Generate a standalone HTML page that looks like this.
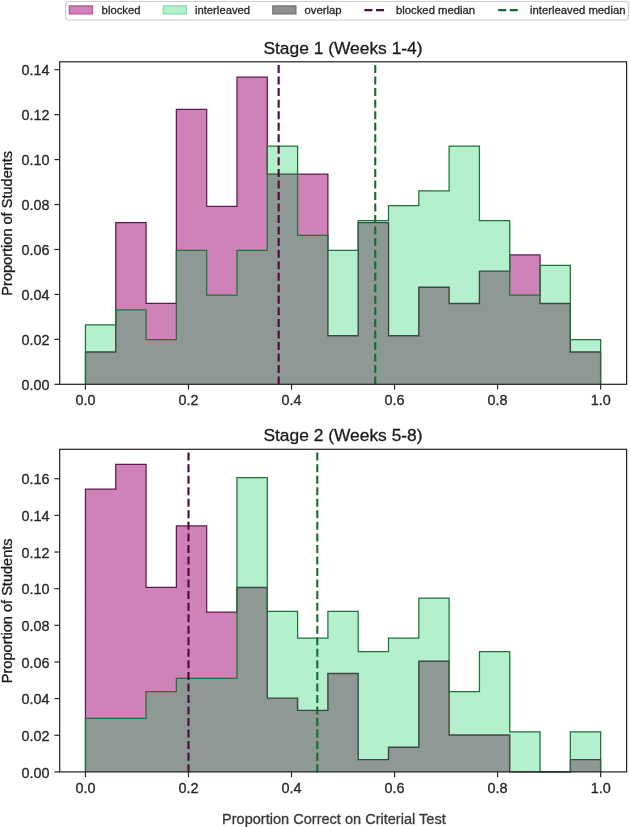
<!DOCTYPE html>
<html><head><meta charset="utf-8"><title>chart</title>
<style>
html,body{margin:0;padding:0;background:#fff;}
body{width:631px;height:827px;position:relative;overflow:hidden;font-family:"Liberation Sans", sans-serif;}
svg text{font-family:"Liberation Sans", sans-serif;stroke-width:0.3px;}
</style></head><body>
<svg width="631" height="827" viewBox="0 0 631 827" style="position:absolute;left:0;top:0;will-change:transform;opacity:0.999">
<rect x="0" y="0" width="631" height="827" fill="#fff"/>
<clipPath id="ci0"><path d="M85.45 384.3 L85.45 324.78 L115.76 324.78 L115.76 309.9 L146.06 309.9 L146.06 339.66 L176.37 339.66 L176.37 250.37 L206.67 250.37 L206.67 295.02 L236.98 295.02 L236.98 250.37 L267.29 250.37 L267.29 146.21 L297.59 146.21 L297.59 235.49 L327.9 235.49 L327.9 250.37 L358.2 250.37 L358.2 220.61 L388.51 220.61 L388.51 205.73 L418.81 205.73 L418.81 190.85 L449.12 190.85 L449.12 146.21 L479.43 146.21 L479.43 220.61 L509.73 220.61 L509.73 295.02 L540.04 295.02 L540.04 265.25 L570.34 265.25 L570.34 339.66 L600.65 339.66 L600.65 384.3 Z"/></clipPath>
<path d="M85.45 384.3 L85.45 351.97 L115.76 351.97 L115.76 222.65 L146.06 222.65 L146.06 303.47 L176.37 303.47 L176.37 109.49 L206.67 109.49 L206.67 206.48 L236.98 206.48 L236.98 77.16 L267.29 77.16 L267.29 174.15 L297.59 174.15 L297.59 174.15 L327.9 174.15 L327.9 335.8 L358.2 335.8 L358.2 222.65 L388.51 222.65 L388.51 335.8 L418.81 335.8 L418.81 287.31 L449.12 287.31 L449.12 303.47 L479.43 303.47 L479.43 271.14 L509.73 271.14 L509.73 254.98 L540.04 254.98 L540.04 303.47 L570.34 303.47 L570.34 351.97 L600.65 351.97 L600.65 384.3 Z" fill="#cf82b8"/>
<path d="M85.45 384.3 L85.45 351.97 L115.76 351.97 L115.76 222.65 L146.06 222.65 L146.06 303.47 L176.37 303.47 L176.37 109.49 L206.67 109.49 L206.67 206.48 L236.98 206.48 L236.98 77.16 L267.29 77.16 L267.29 174.15 L297.59 174.15 L297.59 174.15 L327.9 174.15 L327.9 335.8 L358.2 335.8 L358.2 222.65 L388.51 222.65 L388.51 335.8 L418.81 335.8 L418.81 287.31 L449.12 287.31 L449.12 303.47 L479.43 303.47 L479.43 271.14 L509.73 271.14 L509.73 254.98 L540.04 254.98 L540.04 303.47 L570.34 303.47 L570.34 351.97 L600.65 351.97 L600.65 384.3" fill="none" stroke="#5e1a4e" stroke-width="1.25" stroke-linejoin="miter"/>
<path d="M85.45 384.3 L85.45 324.78 L115.76 324.78 L115.76 309.9 L146.06 309.9 L146.06 339.66 L176.37 339.66 L176.37 250.37 L206.67 250.37 L206.67 295.02 L236.98 295.02 L236.98 250.37 L267.29 250.37 L267.29 146.21 L297.59 146.21 L297.59 235.49 L327.9 235.49 L327.9 250.37 L358.2 250.37 L358.2 220.61 L388.51 220.61 L388.51 205.73 L418.81 205.73 L418.81 190.85 L449.12 190.85 L449.12 146.21 L479.43 146.21 L479.43 220.61 L509.73 220.61 L509.73 295.02 L540.04 295.02 L540.04 265.25 L570.34 265.25 L570.34 339.66 L600.65 339.66 L600.65 384.3 Z" fill="#b3f0cb"/>
<path d="M85.45 384.3 L85.45 351.97 L115.76 351.97 L115.76 309.9 L146.06 309.9 L146.06 339.66 L176.37 339.66 L176.37 250.37 L206.67 250.37 L206.67 295.02 L236.98 295.02 L236.98 250.37 L267.29 250.37 L267.29 174.15 L297.59 174.15 L297.59 235.49 L327.9 235.49 L327.9 335.8 L358.2 335.8 L358.2 222.65 L388.51 222.65 L388.51 335.8 L418.81 335.8 L418.81 287.31 L449.12 287.31 L449.12 303.47 L479.43 303.47 L479.43 271.14 L509.73 271.14 L509.73 295.02 L540.04 295.02 L540.04 303.47 L570.34 303.47 L570.34 351.97 L600.65 351.97 L600.65 384.3 Z" fill="#8e9894"/>
<path d="M85.45 384.3 L85.45 351.97 L115.76 351.97 L115.76 222.65 L146.06 222.65 L146.06 303.47 L176.37 303.47 L176.37 109.49 L206.67 109.49 L206.67 206.48 L236.98 206.48 L236.98 77.16 L267.29 77.16 L267.29 174.15 L297.59 174.15 L297.59 174.15 L327.9 174.15 L327.9 335.8 L358.2 335.8 L358.2 222.65 L388.51 222.65 L388.51 335.8 L418.81 335.8 L418.81 287.31 L449.12 287.31 L449.12 303.47 L479.43 303.47 L479.43 271.14 L509.73 271.14 L509.73 254.98 L540.04 254.98 L540.04 303.47 L570.34 303.47 L570.34 351.97 L600.65 351.97 L600.65 384.3" fill="none" stroke="#3f4743" stroke-width="1.4" clip-path="url(#ci0)"/>
<path d="M85.45 384.3 L85.45 324.78 L115.76 324.78 L115.76 309.9 L146.06 309.9 L146.06 339.66 L176.37 339.66 L176.37 250.37 L206.67 250.37 L206.67 295.02 L236.98 295.02 L236.98 250.37 L267.29 250.37 L267.29 146.21 L297.59 146.21 L297.59 235.49 L327.9 235.49 L327.9 250.37 L358.2 250.37 L358.2 220.61 L388.51 220.61 L388.51 205.73 L418.81 205.73 L418.81 190.85 L449.12 190.85 L449.12 146.21 L479.43 146.21 L479.43 220.61 L509.73 220.61 L509.73 295.02 L540.04 295.02 L540.04 265.25 L570.34 265.25 L570.34 339.66 L600.65 339.66 L600.65 384.3" fill="none" stroke="#1b7438" stroke-width="1.25" stroke-linejoin="miter"/>
<line x1="278.65" y1="384.6" x2="278.65" y2="61.8" stroke="#4a0a3c" stroke-width="2.1" stroke-dasharray="8.0 3.54"/>
<line x1="375.25" y1="384.6" x2="375.25" y2="61.8" stroke="#166c31" stroke-width="2.1" stroke-dasharray="8.0 3.54"/>
<rect x="59.7" y="61.8" width="566.9" height="322.5" fill="none" stroke="#222222" stroke-width="1.2"/>
<line x1="54.4" y1="384.3" x2="59.7" y2="384.3" stroke="#222222" stroke-width="1.15"/>
<text x="49.4" y="390.05" text-anchor="end" font-size="14.4" fill="#262626" stroke="#262626">0.00</text>
<line x1="54.4" y1="339.36" x2="59.7" y2="339.36" stroke="#222222" stroke-width="1.15"/>
<text x="49.4" y="345.11" text-anchor="end" font-size="14.4" fill="#262626" stroke="#262626">0.02</text>
<line x1="54.4" y1="294.42" x2="59.7" y2="294.42" stroke="#222222" stroke-width="1.15"/>
<text x="49.4" y="300.17" text-anchor="end" font-size="14.4" fill="#262626" stroke="#262626">0.04</text>
<line x1="54.4" y1="249.48" x2="59.7" y2="249.48" stroke="#222222" stroke-width="1.15"/>
<text x="49.4" y="255.23" text-anchor="end" font-size="14.4" fill="#262626" stroke="#262626">0.06</text>
<line x1="54.4" y1="204.54" x2="59.7" y2="204.54" stroke="#222222" stroke-width="1.15"/>
<text x="49.4" y="210.29" text-anchor="end" font-size="14.4" fill="#262626" stroke="#262626">0.08</text>
<line x1="54.4" y1="159.6" x2="59.7" y2="159.6" stroke="#222222" stroke-width="1.15"/>
<text x="49.4" y="165.35" text-anchor="end" font-size="14.4" fill="#262626" stroke="#262626">0.10</text>
<line x1="54.4" y1="114.66" x2="59.7" y2="114.66" stroke="#222222" stroke-width="1.15"/>
<text x="49.4" y="120.41" text-anchor="end" font-size="14.4" fill="#262626" stroke="#262626">0.12</text>
<line x1="54.4" y1="69.72" x2="59.7" y2="69.72" stroke="#222222" stroke-width="1.15"/>
<text x="49.4" y="75.47" text-anchor="end" font-size="14.4" fill="#262626" stroke="#262626">0.14</text>
<line x1="85.45" y1="384.3" x2="85.45" y2="389.6" stroke="#222222" stroke-width="1.15"/>
<text x="85.45" y="405.4" text-anchor="middle" font-size="14.4" fill="#262626" stroke="#262626">0.0</text>
<line x1="188.49" y1="384.3" x2="188.49" y2="389.6" stroke="#222222" stroke-width="1.15"/>
<text x="188.49" y="405.4" text-anchor="middle" font-size="14.4" fill="#262626" stroke="#262626">0.2</text>
<line x1="291.53" y1="384.3" x2="291.53" y2="389.6" stroke="#222222" stroke-width="1.15"/>
<text x="291.53" y="405.4" text-anchor="middle" font-size="14.4" fill="#262626" stroke="#262626">0.4</text>
<line x1="394.57" y1="384.3" x2="394.57" y2="389.6" stroke="#222222" stroke-width="1.15"/>
<text x="394.57" y="405.4" text-anchor="middle" font-size="14.4" fill="#262626" stroke="#262626">0.6</text>
<line x1="497.61" y1="384.3" x2="497.61" y2="389.6" stroke="#222222" stroke-width="1.15"/>
<text x="497.61" y="405.4" text-anchor="middle" font-size="14.4" fill="#262626" stroke="#262626">0.8</text>
<line x1="600.65" y1="384.3" x2="600.65" y2="389.6" stroke="#222222" stroke-width="1.15"/>
<text x="600.65" y="405.4" text-anchor="middle" font-size="14.4" fill="#262626" stroke="#262626">1.0</text>
<text x="343.0" y="54.1" text-anchor="middle" font-size="17.4" fill="#1a1a1a" stroke="#1a1a1a">Stage 1 (Weeks 1-4)</text>
<text transform="translate(12.2 223.25) rotate(-90)" text-anchor="middle" font-size="14.55" fill="#1a1a1a" stroke="#1a1a1a">Proportion of Students</text>
<clipPath id="ci1"><path d="M85.45 771.9 L85.45 718.4 L115.76 718.4 L115.76 718.4 L146.06 718.4 L146.06 691.65 L176.37 691.65 L176.37 678.28 L206.67 678.28 L206.67 678.28 L236.98 678.28 L236.98 477.66 L267.29 477.66 L267.29 611.41 L297.59 611.41 L297.59 638.16 L327.9 638.16 L327.9 611.41 L358.2 611.41 L358.2 651.53 L388.51 651.53 L388.51 638.16 L418.81 638.16 L418.81 598.03 L449.12 598.03 L449.12 691.65 L479.43 691.65 L479.43 651.53 L509.73 651.53 L509.73 731.78 L540.04 731.78 L540.04 771.9 L570.34 771.9 L570.34 731.78 L600.65 731.78 L600.65 771.9 Z"/></clipPath>
<path d="M85.45 771.9 L85.45 489.06 L115.76 489.06 L115.76 464.47 L146.06 464.47 L146.06 587.44 L176.37 587.44 L176.37 525.95 L206.67 525.95 L206.67 612.03 L236.98 612.03 L236.98 587.44 L267.29 587.44 L267.29 698.12 L297.59 698.12 L297.59 710.41 L327.9 710.41 L327.9 673.52 L358.2 673.52 L358.2 759.6 L388.51 759.6 L388.51 747.31 L418.81 747.31 L418.81 661.22 L449.12 661.22 L449.12 735.01 L479.43 735.01 L479.43 735.01 L509.73 735.01 L509.73 771.9 L540.04 771.9 L540.04 771.9 L570.34 771.9 L570.34 759.6 L600.65 759.6 L600.65 771.9 Z" fill="#cf82b8"/>
<path d="M85.45 771.9 L85.45 489.06 L115.76 489.06 L115.76 464.47 L146.06 464.47 L146.06 587.44 L176.37 587.44 L176.37 525.95 L206.67 525.95 L206.67 612.03 L236.98 612.03 L236.98 587.44 L267.29 587.44 L267.29 698.12 L297.59 698.12 L297.59 710.41 L327.9 710.41 L327.9 673.52 L358.2 673.52 L358.2 759.6 L388.51 759.6 L388.51 747.31 L418.81 747.31 L418.81 661.22 L449.12 661.22 L449.12 735.01 L479.43 735.01 L479.43 735.01 L509.73 735.01 L509.73 771.9 L540.04 771.9 L540.04 771.9 L570.34 771.9 L570.34 759.6 L600.65 759.6 L600.65 771.9" fill="none" stroke="#5e1a4e" stroke-width="1.25" stroke-linejoin="miter"/>
<path d="M85.45 771.9 L85.45 718.4 L115.76 718.4 L115.76 718.4 L146.06 718.4 L146.06 691.65 L176.37 691.65 L176.37 678.28 L206.67 678.28 L206.67 678.28 L236.98 678.28 L236.98 477.66 L267.29 477.66 L267.29 611.41 L297.59 611.41 L297.59 638.16 L327.9 638.16 L327.9 611.41 L358.2 611.41 L358.2 651.53 L388.51 651.53 L388.51 638.16 L418.81 638.16 L418.81 598.03 L449.12 598.03 L449.12 691.65 L479.43 691.65 L479.43 651.53 L509.73 651.53 L509.73 731.78 L540.04 731.78 L540.04 771.9 L570.34 771.9 L570.34 731.78 L600.65 731.78 L600.65 771.9 Z" fill="#b3f0cb"/>
<path d="M85.45 771.9 L85.45 718.4 L115.76 718.4 L115.76 718.4 L146.06 718.4 L146.06 691.65 L176.37 691.65 L176.37 678.28 L206.67 678.28 L206.67 678.28 L236.98 678.28 L236.98 587.44 L267.29 587.44 L267.29 698.12 L297.59 698.12 L297.59 710.41 L327.9 710.41 L327.9 673.52 L358.2 673.52 L358.2 759.6 L388.51 759.6 L388.51 747.31 L418.81 747.31 L418.81 661.22 L449.12 661.22 L449.12 735.01 L479.43 735.01 L479.43 735.01 L509.73 735.01 L509.73 771.9 L540.04 771.9 L540.04 771.9 L570.34 771.9 L570.34 759.6 L600.65 759.6 L600.65 771.9 Z" fill="#8e9894"/>
<path d="M85.45 771.9 L85.45 489.06 L115.76 489.06 L115.76 464.47 L146.06 464.47 L146.06 587.44 L176.37 587.44 L176.37 525.95 L206.67 525.95 L206.67 612.03 L236.98 612.03 L236.98 587.44 L267.29 587.44 L267.29 698.12 L297.59 698.12 L297.59 710.41 L327.9 710.41 L327.9 673.52 L358.2 673.52 L358.2 759.6 L388.51 759.6 L388.51 747.31 L418.81 747.31 L418.81 661.22 L449.12 661.22 L449.12 735.01 L479.43 735.01 L479.43 735.01 L509.73 735.01 L509.73 771.9 L540.04 771.9 L540.04 771.9 L570.34 771.9 L570.34 759.6 L600.65 759.6 L600.65 771.9" fill="none" stroke="#3f4743" stroke-width="1.4" clip-path="url(#ci1)"/>
<path d="M85.45 771.9 L85.45 718.4 L115.76 718.4 L115.76 718.4 L146.06 718.4 L146.06 691.65 L176.37 691.65 L176.37 678.28 L206.67 678.28 L206.67 678.28 L236.98 678.28 L236.98 477.66 L267.29 477.66 L267.29 611.41 L297.59 611.41 L297.59 638.16 L327.9 638.16 L327.9 611.41 L358.2 611.41 L358.2 651.53 L388.51 651.53 L388.51 638.16 L418.81 638.16 L418.81 598.03 L449.12 598.03 L449.12 691.65 L479.43 691.65 L479.43 651.53 L509.73 651.53 L509.73 731.78 L540.04 731.78 L540.04 771.9 L570.34 771.9 L570.34 731.78 L600.65 731.78 L600.65 771.9" fill="none" stroke="#1b7438" stroke-width="1.25" stroke-linejoin="miter"/>
<line x1="188.49" y1="772.2" x2="188.49" y2="449.3" stroke="#4a0a3c" stroke-width="2.1" stroke-dasharray="8.0 3.54"/>
<line x1="317.29" y1="772.2" x2="317.29" y2="449.3" stroke="#166c31" stroke-width="2.1" stroke-dasharray="8.0 3.54"/>
<rect x="59.7" y="449.3" width="566.9" height="322.6" fill="none" stroke="#222222" stroke-width="1.2"/>
<line x1="54.4" y1="771.9" x2="59.7" y2="771.9" stroke="#222222" stroke-width="1.15"/>
<text x="49.4" y="777.65" text-anchor="end" font-size="14.4" fill="#262626" stroke="#262626">0.00</text>
<line x1="54.4" y1="735.25" x2="59.7" y2="735.25" stroke="#222222" stroke-width="1.15"/>
<text x="49.4" y="741" text-anchor="end" font-size="14.4" fill="#262626" stroke="#262626">0.02</text>
<line x1="54.4" y1="698.61" x2="59.7" y2="698.61" stroke="#222222" stroke-width="1.15"/>
<text x="49.4" y="704.36" text-anchor="end" font-size="14.4" fill="#262626" stroke="#262626">0.04</text>
<line x1="54.4" y1="661.96" x2="59.7" y2="661.96" stroke="#222222" stroke-width="1.15"/>
<text x="49.4" y="667.71" text-anchor="end" font-size="14.4" fill="#262626" stroke="#262626">0.06</text>
<line x1="54.4" y1="625.32" x2="59.7" y2="625.32" stroke="#222222" stroke-width="1.15"/>
<text x="49.4" y="631.07" text-anchor="end" font-size="14.4" fill="#262626" stroke="#262626">0.08</text>
<line x1="54.4" y1="588.67" x2="59.7" y2="588.67" stroke="#222222" stroke-width="1.15"/>
<text x="49.4" y="594.42" text-anchor="end" font-size="14.4" fill="#262626" stroke="#262626">0.10</text>
<line x1="54.4" y1="552.02" x2="59.7" y2="552.02" stroke="#222222" stroke-width="1.15"/>
<text x="49.4" y="557.77" text-anchor="end" font-size="14.4" fill="#262626" stroke="#262626">0.12</text>
<line x1="54.4" y1="515.38" x2="59.7" y2="515.38" stroke="#222222" stroke-width="1.15"/>
<text x="49.4" y="521.13" text-anchor="end" font-size="14.4" fill="#262626" stroke="#262626">0.14</text>
<line x1="54.4" y1="478.73" x2="59.7" y2="478.73" stroke="#222222" stroke-width="1.15"/>
<text x="49.4" y="484.48" text-anchor="end" font-size="14.4" fill="#262626" stroke="#262626">0.16</text>
<line x1="85.45" y1="771.9" x2="85.45" y2="777.2" stroke="#222222" stroke-width="1.15"/>
<text x="85.45" y="793" text-anchor="middle" font-size="14.4" fill="#262626" stroke="#262626">0.0</text>
<line x1="188.49" y1="771.9" x2="188.49" y2="777.2" stroke="#222222" stroke-width="1.15"/>
<text x="188.49" y="793" text-anchor="middle" font-size="14.4" fill="#262626" stroke="#262626">0.2</text>
<line x1="291.53" y1="771.9" x2="291.53" y2="777.2" stroke="#222222" stroke-width="1.15"/>
<text x="291.53" y="793" text-anchor="middle" font-size="14.4" fill="#262626" stroke="#262626">0.4</text>
<line x1="394.57" y1="771.9" x2="394.57" y2="777.2" stroke="#222222" stroke-width="1.15"/>
<text x="394.57" y="793" text-anchor="middle" font-size="14.4" fill="#262626" stroke="#262626">0.6</text>
<line x1="497.61" y1="771.9" x2="497.61" y2="777.2" stroke="#222222" stroke-width="1.15"/>
<text x="497.61" y="793" text-anchor="middle" font-size="14.4" fill="#262626" stroke="#262626">0.8</text>
<line x1="600.65" y1="771.9" x2="600.65" y2="777.2" stroke="#222222" stroke-width="1.15"/>
<text x="600.65" y="793" text-anchor="middle" font-size="14.4" fill="#262626" stroke="#262626">1.0</text>
<text x="343.0" y="440.9" text-anchor="middle" font-size="17.4" fill="#1a1a1a" stroke="#1a1a1a">Stage 2 (Weeks 5-8)</text>
<text transform="translate(12.2 610.8) rotate(-90)" text-anchor="middle" font-size="14.55" fill="#1a1a1a" stroke="#1a1a1a">Proportion of Students</text>
<text x="333.9" y="824.0" text-anchor="middle" font-size="14.55" fill="#3a3a3a" stroke="#3a3a3a">Proportion Correct on Criterial Test</text>
<rect x="65.7" y="1.5" width="562.7" height="18.5" rx="2.9" ry="2.9" fill="#fff" stroke="#cccccc" stroke-width="1.15"/>
<rect x="69.4" y="5.9" width="23.1" height="8" fill="#cf82b8" stroke="#bd4f9e" stroke-width="1.25"/>
<rect x="163.3" y="5.9" width="23.1" height="8" fill="#b3f0cb" stroke="#80dfa8" stroke-width="1.25"/>
<rect x="272.8" y="5.9" width="23.1" height="8" fill="#8f8f8f" stroke="#727272" stroke-width="1.25"/>
<text x="101.6" y="14.2" font-size="11.3" fill="#262626" stroke="#262626">blocked</text>
<text x="194.9" y="14.2" font-size="11.3" fill="#262626" stroke="#262626">interleaved</text>
<text x="304.5" y="14.2" font-size="11.3" fill="#262626" stroke="#262626">overlap</text>
<text x="396" y="14.2" font-size="11.3" fill="#262626" stroke="#262626">blocked median</text>
<text x="530" y="14.2" font-size="11.3" fill="#262626" stroke="#262626">interleaved median</text>
<line x1="364.4" y1="10.2" x2="387" y2="10.2" stroke="#4a0a3c" stroke-width="2.16" stroke-dasharray="8.0 3.54"/>
<line x1="498.2" y1="10.2" x2="520.8" y2="10.2" stroke="#166c31" stroke-width="2.16" stroke-dasharray="8.0 3.54"/>
</svg>
</body></html>
